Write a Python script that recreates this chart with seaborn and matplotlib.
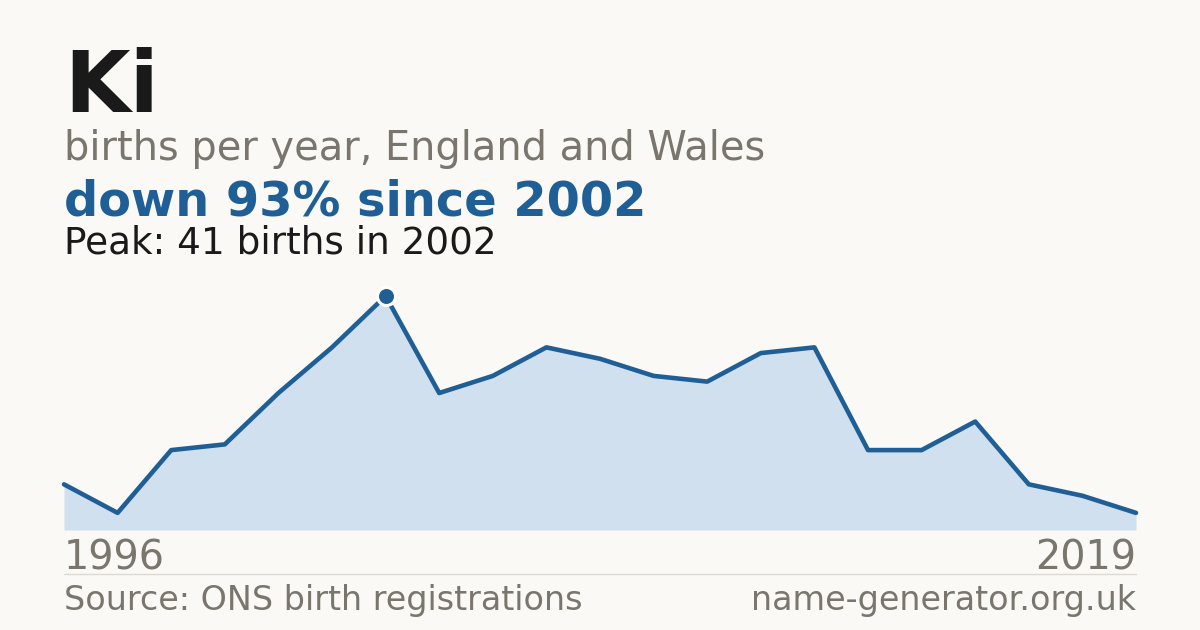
import matplotlib
matplotlib.use("Agg")
import matplotlib.pyplot as plt
import seaborn as sns
import numpy as np
import pandas as pd

# Data
births = [8, 3, 14, 15, 24, 32, 41, 24, 27, 32, 30, 27, 26, 31, 32, 14, 14, 19, 8, 6, 3]
first_year = "1996"
last_year = "2019"
peak_index = 6

title = "Ki"
subtitle = "births per year, England and Wales"
headline = "down 93% since 2002"
peak_text = "Peak: 41 births in 2002"
source_text = "Source: ONS birth registrations"
site_text = "name-generator.org.uk"

bg = "#faf9f5"
blue = "#1f5f96"
fill = "#d0e0ef"
grey = "#7a756d"
dark = "#1a1a1a"

sns.set_theme(style="white")
plt.rcParams["font.family"] = ["DejaVu Sans"]

df = pd.DataFrame({"idx": np.arange(len(births)), "births": births})

W, H = 1200, 630
fig = plt.figure(figsize=(12, 6.3), dpi=100, facecolor=bg)

# chart area in pixel coordinates
left, right, top, bottom = 64, 1136, 296, 530
ax = fig.add_axes([left / W, 1 - bottom / H, (right - left) / W, (bottom - top) / H])
ax.set_facecolor(bg)

ax.fill_between(df["idx"], df["births"], 0, color=fill, linewidth=0)
sns.lineplot(data=df, x="idx", y="births", ax=ax, color=blue, linewidth=3.3, clip_on=False)
ax.plot(peak_index, births[peak_index], "o", color=blue, markersize=13,
        markeredgecolor="white", markeredgewidth=2.2, clip_on=False, zorder=5)

ax.set_xlim(0, len(births) - 1)
ax.set_ylim(0, max(births))
ax.set_xticks([])
ax.set_yticks([])
ax.set_xlabel("")
ax.set_ylabel("")
for s in ax.spines.values():
    s.set_visible(False)


def px(x, y):
    return x / W, 1 - y / H


fig.text(*px(64, 112), title, fontsize=61, fontweight="bold", color=dark, va="baseline")
fig.text(*px(64, 160), subtitle, fontsize=28.7, color=grey, va="baseline")
fig.text(*px(64, 215), headline, fontsize=34.5, fontweight="bold", color=blue, va="baseline")
fig.text(*px(64, 253), peak_text, fontsize=26.9, color=dark, va="baseline")

fig.text(*px(64, 570), first_year, fontsize=28.6, color=grey, va="baseline")
fig.text(*px(1136, 570), last_year, fontsize=28.6, color=grey, va="baseline", ha="right")

fig.add_artist(plt.Line2D([64 / W, 1136 / W], [1 - 574 / H, 1 - 574 / H],
                          color="#dedad3", linewidth=1))

fig.text(*px(64, 610), source_text, fontsize=24, color=grey, va="baseline")
fig.text(*px(1136, 610), site_text, fontsize=24, color=grey, va="baseline", ha="right")

fig.savefig("out.png", dpi=100, facecolor=bg)
